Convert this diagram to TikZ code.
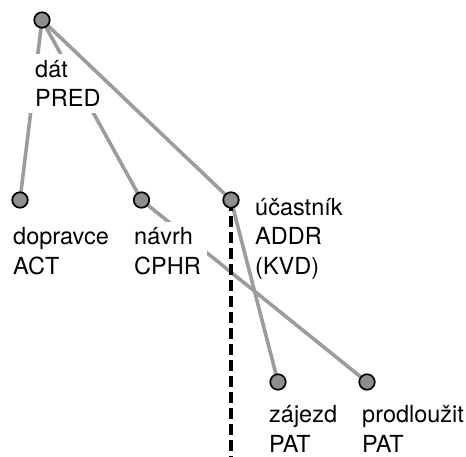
\documentclass[tikz,border=0pt]{standalone}
\usepackage{fontspec}
\setmainfont{TeX Gyre Heros}
\begin{document}
\begin{tikzpicture}[x=1pt,y=-1pt,
  dot/.style={circle,draw=black,fill=dotgray,line width=1.7pt,minimum size=15.5pt,inner sep=0pt},
  edge/.style={draw=linegray,line width=3.6pt},
  lab/.style={anchor=base west,align=left,inner sep=0pt,font=\fontsize{23.5}{29.5}\selectfont},
  gaplab/.style={lab,fill=white,inner sep=6pt},
  dep/.style={draw=black,line width=3.8pt,dash pattern=on 10.7pt off 5.3pt}]
\definecolor{dotgray}{HTML}{8E8E8E}
\definecolor{linegray}{HTML}{9C9C9C}
\useasboundingbox (0,0) rectangle (466,457);
\coordinate (root) at (42,20);
\coordinate (dop) at (20,200);
\coordinate (nav) at (141.5,200);
\coordinate (uc) at (231,200);
\coordinate (zaj) at (278,382);
\coordinate (pro) at (367,382);
\coordinate (bot) at (231,457);
% lines interrupted by labels
\draw[edge] (root) -- (dop);
\draw[edge] (root) -- (nav);
\draw[edge] (nav) -- (pro);
% labels (base anchor = baseline of last line)
\node[gaplab] (tdat) at (29,107) {dát\\PRED};
\node[gaplab] (tnav) at (128,274.5) {návrh\\CPHR};
\node[lab] (tdop) at (13,274.5) {dopravce\\ACT};
\node[lab] (tuc) at (255,274.5) {účastník\\ADDR\\(KVD)};
\node[lab] (tzaj) at (269,452) {zájezd\\PAT};
\node[lab] (tpro) at (362,452) {prodloužit\\PAT};
% uninterrupted lines
\draw[edge] (root) -- (uc);
\draw[edge] (uc) -- (zaj);
\draw[dep] (uc) -- (bot);
% dots
\node[dot] (nroot) at (root) {};
\node[dot] (ndop) at (dop) {};
\node[dot] (nnav) at (nav) {};
\node[dot] (nuc) at (uc) {};
\node[dot] (nzaj) at (zaj) {};
\node[dot] (npro) at (pro) {};
\end{tikzpicture}
\end{document}
